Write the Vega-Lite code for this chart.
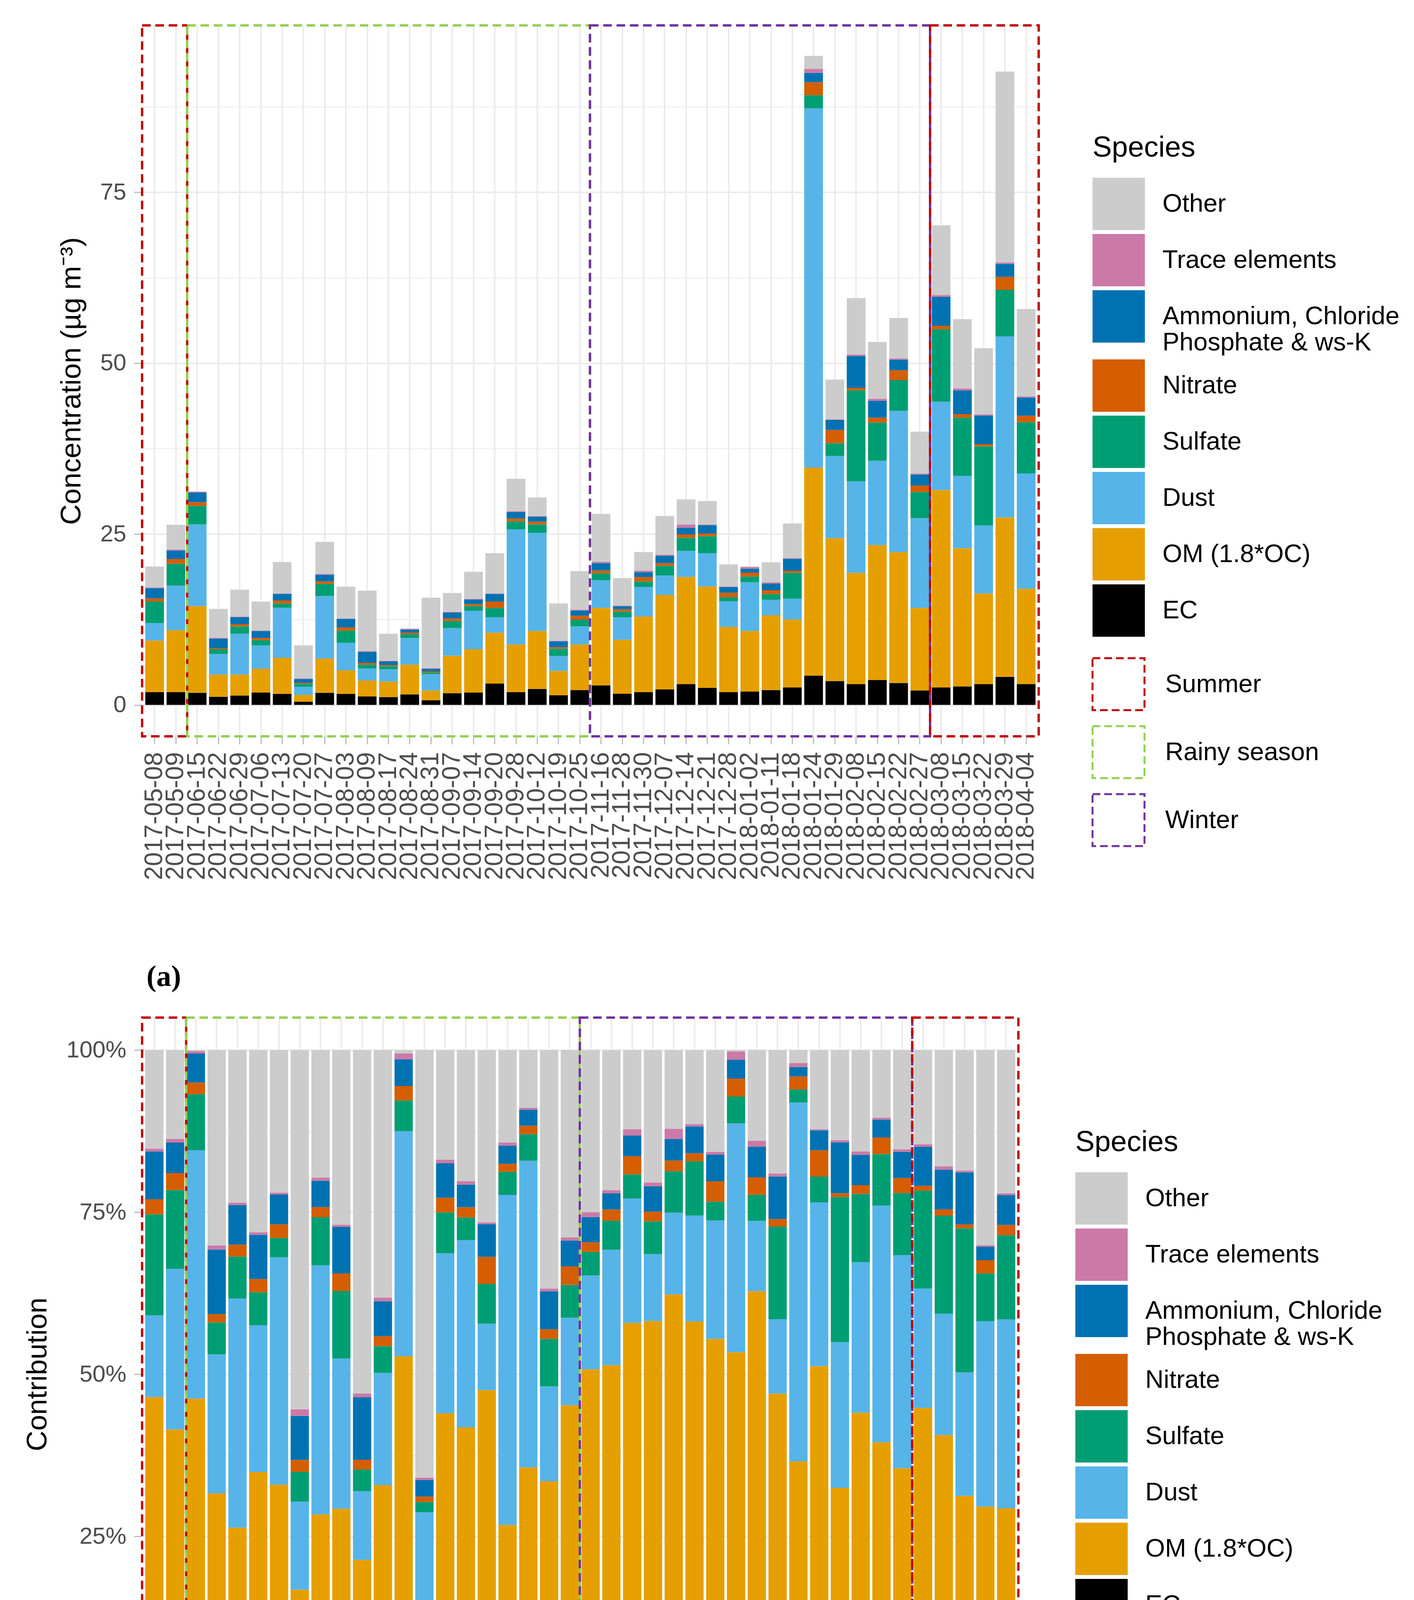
{
  "$schema": "https://vega.github.io/schema/vega-lite/v6.json",
  "padding": {"left": 60, "top": 62, "right": 20, "bottom": 0},
  "spacing": 62,
  "config": {
    "font": "Liberation Sans",
    "view": {"stroke": null},
    "axis": {"titleFontWeight": "normal", "titleColor": "black", "titleFontSize": 73, "labelLimit": 1000},
    "legend": {"titleLimit": 1000, "labelLimit": 1200}
  },
  "datasets": {
    "conc": [
      {"date": "2017-05-08", "EC": 1.86, "OM": 7.55, "Dust": 2.55, "Sulfate": 3.16, "Nitrate": 0.47, "NH4": 1.49, "Trace": 0.09, "Other": 3.08},
      {"date": "2017-05-09", "EC": 1.86, "OM": 9.07, "Dust": 6.52, "Sulfate": 3.20, "Nitrate": 0.69, "NH4": 1.24, "Trace": 0.15, "Other": 3.61},
      {"date": "2017-06-15", "EC": 1.77, "OM": 12.67, "Dust": 11.96, "Sulfate": 2.70, "Nitrate": 0.56, "NH4": 1.40, "Trace": 0.12, "Other": 0.05},
      {"date": "2017-06-22", "EC": 1.18, "OM": 3.26, "Dust": 3.01, "Sulfate": 0.69, "Nitrate": 0.18, "NH4": 1.40, "Trace": 0.09, "Other": 4.23},
      {"date": "2017-06-29", "EC": 1.37, "OM": 3.07, "Dust": 5.96, "Sulfate": 1.09, "Nitrate": 0.31, "NH4": 1.03, "Trace": 0.06, "Other": 3.97},
      {"date": "2017-07-06", "EC": 1.80, "OM": 3.48, "Dust": 3.42, "Sulfate": 0.77, "Nitrate": 0.31, "NH4": 1.03, "Trace": 0.06, "Other": 4.25},
      {"date": "2017-07-13", "EC": 1.61, "OM": 5.28, "Dust": 7.33, "Sulfate": 0.62, "Nitrate": 0.44, "NH4": 0.96, "Trace": 0.06, "Other": 4.60},
      {"date": "2017-07-20", "EC": 0.47, "OM": 0.99, "Dust": 1.18, "Sulfate": 0.40, "Nitrate": 0.16, "NH4": 0.59, "Trace": 0.09, "Other": 4.82},
      {"date": "2017-07-27", "EC": 1.77, "OM": 5.00, "Dust": 9.16, "Sulfate": 1.77, "Nitrate": 0.37, "NH4": 0.97, "Trace": 0.12, "Other": 4.69},
      {"date": "2017-08-03", "EC": 1.61, "OM": 3.45, "Dust": 4.01, "Sulfate": 1.80, "Nitrate": 0.47, "NH4": 1.24, "Trace": 0.06, "Other": 4.66},
      {"date": "2017-08-09", "EC": 1.24, "OM": 2.33, "Dust": 1.77, "Sulfate": 0.56, "Nitrate": 0.25, "NH4": 1.61, "Trace": 0.10, "Other": 8.85},
      {"date": "2017-08-17", "EC": 1.15, "OM": 2.27, "Dust": 1.80, "Sulfate": 0.43, "Nitrate": 0.16, "NH4": 0.56, "Trace": 0.06, "Other": 3.97},
      {"date": "2017-08-24", "EC": 1.55, "OM": 4.35, "Dust": 3.88, "Sulfate": 0.53, "Nitrate": 0.25, "NH4": 0.46, "Trace": 0.10, "Other": 0.06},
      {"date": "2017-08-31", "EC": 0.68, "OM": 1.43, "Dust": 2.39, "Sulfate": 0.25, "Nitrate": 0.13, "NH4": 0.40, "Trace": 0.06, "Other": 10.34},
      {"date": "2017-09-07", "EC": 1.71, "OM": 5.49, "Dust": 4.04, "Sulfate": 1.03, "Nitrate": 0.37, "NH4": 0.87, "Trace": 0.09, "Other": 2.77},
      {"date": "2017-09-14", "EC": 1.80, "OM": 6.34, "Dust": 5.62, "Sulfate": 0.68, "Nitrate": 0.31, "NH4": 0.68, "Trace": 0.10, "Other": 3.94},
      {"date": "2017-09-20", "EC": 3.11, "OM": 7.45, "Dust": 2.27, "Sulfate": 1.36, "Nitrate": 0.93, "NH4": 1.12, "Trace": 0.06, "Other": 5.90},
      {"date": "2017-09-28", "EC": 1.86, "OM": 6.99, "Dust": 16.83, "Sulfate": 1.18, "Nitrate": 0.41, "NH4": 0.93, "Trace": 0.15, "Other": 4.72},
      {"date": "2017-10-12", "EC": 2.33, "OM": 8.48, "Dust": 14.35, "Sulfate": 1.24, "Nitrate": 0.40, "NH4": 0.75, "Trace": 0.09, "Other": 2.70},
      {"date": "2017-10-19", "EC": 1.40, "OM": 3.57, "Dust": 2.17, "Sulfate": 1.09, "Nitrate": 0.22, "NH4": 0.87, "Trace": 0.06, "Other": 5.46},
      {"date": "2017-10-25", "EC": 2.17, "OM": 6.68, "Dust": 2.64, "Sulfate": 0.99, "Nitrate": 0.56, "NH4": 0.78, "Trace": 0.09, "Other": 5.66},
      {"date": "2017-11-16", "EC": 2.86, "OM": 11.33, "Dust": 4.04, "Sulfate": 1.02, "Nitrate": 0.41, "NH4": 1.09, "Trace": 0.21, "Other": 6.99},
      {"date": "2017-11-28", "EC": 1.65, "OM": 7.88, "Dust": 3.30, "Sulfate": 0.83, "Nitrate": 0.32, "NH4": 0.46, "Trace": 0.09, "Other": 4.01},
      {"date": "2017-11-30", "EC": 1.86, "OM": 11.09, "Dust": 4.29, "Sulfate": 0.83, "Nitrate": 0.63, "NH4": 0.71, "Trace": 0.22, "Other": 2.73},
      {"date": "2017-12-07", "EC": 2.27, "OM": 13.82, "Dust": 2.85, "Sulfate": 1.40, "Nitrate": 0.41, "NH4": 1.08, "Trace": 0.16, "Other": 5.65},
      {"date": "2017-12-14", "EC": 3.04, "OM": 15.69, "Dust": 3.79, "Sulfate": 1.92, "Nitrate": 0.50, "NH4": 0.99, "Trace": 0.47, "Other": 3.66},
      {"date": "2017-12-21", "EC": 2.48, "OM": 14.85, "Dust": 4.87, "Sulfate": 2.49, "Nitrate": 0.37, "NH4": 1.24, "Trace": 0.10, "Other": 3.41},
      {"date": "2017-12-28", "EC": 1.86, "OM": 9.54, "Dust": 3.76, "Sulfate": 0.59, "Nitrate": 0.65, "NH4": 0.84, "Trace": 0.09, "Other": 3.23},
      {"date": "2018-01-02", "EC": 1.96, "OM": 8.85, "Dust": 7.14, "Sulfate": 0.84, "Nitrate": 0.56, "NH4": 0.59, "Trace": 0.25, "Other": 0.05},
      {"date": "2018-01-11", "EC": 2.17, "OM": 10.94, "Dust": 2.26, "Sulfate": 0.84, "Nitrate": 0.56, "NH4": 0.99, "Trace": 0.19, "Other": 2.92},
      {"date": "2018-01-18", "EC": 2.55, "OM": 9.93, "Dust": 3.05, "Sulfate": 3.79, "Nitrate": 0.31, "NH4": 1.74, "Trace": 0.12, "Other": 5.06},
      {"date": "2018-01-24", "EC": 4.29, "OM": 30.43, "Dust": 52.56, "Sulfate": 1.90, "Nitrate": 1.90, "NH4": 1.38, "Trace": 0.59, "Other": 1.90},
      {"date": "2018-01-29", "EC": 3.48, "OM": 20.90, "Dust": 12.02, "Sulfate": 1.89, "Nitrate": 1.93, "NH4": 1.46, "Trace": 0.09, "Other": 5.81},
      {"date": "2018-02-08", "EC": 3.04, "OM": 16.28, "Dust": 13.38, "Sulfate": 13.32, "Nitrate": 0.35, "NH4": 4.67, "Trace": 0.21, "Other": 8.26},
      {"date": "2018-02-15", "EC": 3.63, "OM": 19.76, "Dust": 12.32, "Sulfate": 5.59, "Nitrate": 0.72, "NH4": 2.48, "Trace": 0.28, "Other": 8.30},
      {"date": "2018-02-22", "EC": 3.20, "OM": 19.16, "Dust": 20.65, "Sulfate": 4.50, "Nitrate": 1.45, "NH4": 1.56, "Trace": 0.17, "Other": 5.91},
      {"date": "2018-02-27", "EC": 2.11, "OM": 12.08, "Dust": 13.14, "Sulfate": 3.82, "Nitrate": 0.93, "NH4": 1.62, "Trace": 0.15, "Other": 6.12},
      {"date": "2018-03-08", "EC": 2.55, "OM": 28.88, "Dust": 12.92, "Sulfate": 10.59, "Nitrate": 0.52, "NH4": 4.22, "Trace": 0.28, "Other": 10.20},
      {"date": "2018-03-15", "EC": 2.70, "OM": 20.22, "Dust": 10.56, "Sulfate": 8.54, "Nitrate": 0.53, "NH4": 3.47, "Trace": 0.28, "Other": 10.13},
      {"date": "2018-03-22", "EC": 3.04, "OM": 13.26, "Dust": 9.94, "Sulfate": 11.59, "Nitrate": 0.31, "NH4": 4.19, "Trace": 0.15, "Other": 9.70},
      {"date": "2018-03-29", "EC": 4.10, "OM": 23.32, "Dust": 26.49, "Sulfate": 6.81, "Nitrate": 1.90, "NH4": 1.90, "Trace": 0.21, "Other": 27.91},
      {"date": "2018-04-04", "EC": 3.04, "OM": 13.95, "Dust": 16.86, "Sulfate": 7.52, "Nitrate": 0.93, "NH4": 2.67, "Trace": 0.15, "Other": 12.80}
    ],
    "species": [
      {"key": "EC", "label": "EC", "ord": 1},
      {"key": "OM", "label": "OM (1.8*OC)", "ord": 2},
      {"key": "Dust", "label": "Dust", "ord": 3},
      {"key": "Sulfate", "label": "Sulfate", "ord": 4},
      {"key": "Nitrate", "label": "Nitrate", "ord": 5},
      {"key": "NH4", "label": "Ammonium, Chloride Phosphate & ws-K", "ord": 6},
      {"key": "Trace", "label": "Trace elements", "ord": 7},
      {"key": "Other", "label": "Other", "ord": 8}
    ],
    "seasons": [
      {"season": "Summer", "xs": 0.41, "xe": 2.53},
      {"season": "Rainy season", "xs": 2.53, "xe": 21.48},
      {"season": "Winter", "xs": 21.48, "xe": 37.48},
      {"season": "Summer", "xs": 37.48, "xe": 42.59}
    ]
  },
  "resolve": {"legend": {"color": "independent", "stroke": "independent", "shape": "independent"}},
  "vconcat": [
    {
      "width": 2297,
      "height": 1820,
      "title": {"text": "(a)", "orient": "bottom", "anchor": "start", "frame": "group", "font": "Liberation Serif", "fontSize": 76, "fontWeight": "bold", "color": "black", "offset": 212, "dx": 12},
      "resolve": {"scale": {"x": "independent"}},
      "layer": [
        {
          "data": {"name": "conc"},
          "transform": [
            {"fold": ["EC", "OM", "Dust", "Sulfate", "Nitrate", "NH4", "Trace", "Other"], "as": ["key", "value"]},
            {"lookup": "key", "from": {"data": {"name": "species"}, "key": "key", "fields": ["label", "ord"]}}
          ],
          "mark": {"type": "bar"},
          "encoding": {
            "x": {
              "field": "date", "type": "ordinal",
              "scale": {"paddingInner": 0.12, "paddingOuter": 0.165},
              "axis": {"title": null, "labelAngle": -90, "labelFontSize": 64, "labelColor": "#4D4D4D", "labelPadding": 20,
                       "tickSize": 20, "tickColor": "#BDBDBD", "tickWidth": 3, "grid": true, "gridColor": "#EBEBEB", "gridWidth": 4, "domain": false}
            },
            "y": {
              "field": "value", "type": "quantitative", "stack": "zero",
              "scale": {"domain": [-4.6, 99.4], "nice": false, "zero": false},
              "axis": {
                "title": "Concentration (µg m⁻³)",
                "values": [0, 12.5, 25, 37.5, 50, 62.5, 75, 87.5],
                "labelExpr": "datum.value % 25 === 0 ? datum.label : ''",
                "labelFontSize": 60, "labelColor": "#4D4D4D", "labelPadding": 20, "titlePadding": 36,
                "tickSize": 20, "tickColor": "#BDBDBD", "tickWidth": 3,
                "tickOpacity": {"condition": {"test": "datum.value % 25 !== 0", "value": 0}, "value": 1},
                "domain": false, "grid": true, "gridColor": "#EBEBEB",
                "gridWidth": {"condition": {"test": "datum.value % 25 !== 0", "value": 2}, "value": 4}
              }
            },
            "color": {
              "field": "label", "type": "nominal",
              "scale": {
                "domain": ["Other", "Trace elements", "Ammonium, Chloride Phosphate & ws-K", "Nitrate", "Sulfate", "Dust", "OM (1.8*OC)", "EC"],
                "range": ["#CCCCCC", "#CC79A7", "#0072B2", "#D55E00", "#009E73", "#56B4E9", "#E69F00", "#000000"]
              },
              "legend": {
                "title": "Species", "orient": "none", "legendX": 2434, "legendY": 278,
                "symbolType": "square", "symbolSize": 17956, "symbolStrokeWidth": 0,
                "labelFontSize": 65, "labelColor": "black", "labelLimit": 1200, "labelOffset": 45,
                "titleFontSize": 74, "titleFontWeight": "normal", "titleColor": "black", "titlePadding": 38, "titleLimit": 1000,
                "rowPadding": 10,
                "labelExpr": "datum.label === 'Ammonium, Chloride Phosphate & ws-K' ? ['Ammonium, Chloride', 'Phosphate & ws-K'] : datum.label"
              }
            },
            "order": {"field": "ord", "type": "quantitative", "sort": "ascending"}
          }
        },
        {
          "data": {"name": "seasons"},
          "mark": {"type": "rect", "filled": false, "strokeWidth": 6, "strokeDash": [22, 12]},
          "encoding": {
            "x": {"field": "xs", "type": "quantitative", "scale": {"domain": [0.395, 42.605], "nice": false, "zero": false}, "axis": null},
            "x2": {"field": "xe"},
            "stroke": {
              "field": "season", "type": "nominal",
              "scale": {"domain": ["Summer", "Rainy season", "Winter"], "range": ["#C00000", "#92D050", "#7030A0"]},
              "legend": {
                "title": null, "orient": "none", "legendX": 2431, "legendY": 1617,
                "symbolType": "square", "symbolSize": 17700, "symbolDash": [20, 10], "symbolStrokeWidth": 5, "symbolFillColor": "transparent",
                "labelFontSize": 65, "labelColor": "black", "labelLimit": 1200, "labelOffset": 50, "rowPadding": 19
              }
            }
          }
        }
      ]
    },
    {
      "width": 2245,
      "height": 1826,
      "title": {"text": "(b)", "orient": "bottom", "anchor": "start", "frame": "group", "font": "Liberation Serif", "fontSize": 76, "fontWeight": "bold", "color": "black", "offset": 276, "dx": 2},
      "resolve": {"scale": {"x": "independent"}},
      "layer": [
        {
          "data": {"name": "conc"},
          "transform": [
            {"fold": ["EC", "OM", "Dust", "Sulfate", "Nitrate", "NH4", "Trace", "Other"], "as": ["key", "value"]},
            {"lookup": "key", "from": {"data": {"name": "species"}, "key": "key", "fields": ["label", "ord"]}}
          ],
          "mark": {"type": "bar"},
          "encoding": {
            "x": {
              "field": "date", "type": "ordinal",
              "scale": {"paddingInner": 0.12, "paddingOuter": 0.165},
              "axis": {"title": null, "labelAngle": -90, "labelFontSize": 64, "labelColor": "#4D4D4D", "labelPadding": 20,
                       "tickSize": 20, "tickColor": "#BDBDBD", "tickWidth": 3, "grid": true, "gridColor": "#EBEBEB", "gridWidth": 4, "domain": false}
            },
            "y": {
              "field": "value", "type": "quantitative", "stack": "normalize",
              "scale": {"domain": [-0.05, 1.05], "nice": false, "zero": false},
              "axis": {
                "title": "Contribution",
                "values": [0, 0.125, 0.25, 0.375, 0.5, 0.625, 0.75, 0.875, 1],
                "labelExpr": "round(datum.value * 1000) % 250 === 0 ? format(datum.value, '.0%') : ''",
                "labelFontSize": 60, "labelColor": "#4D4D4D", "labelPadding": 20, "titlePadding": 36,
                "tickSize": 20, "tickColor": "#BDBDBD", "tickWidth": 3,
                "tickOpacity": {"condition": {"test": "round(datum.value * 1000) % 250 !== 0", "value": 0}, "value": 1},
                "domain": false, "grid": true, "gridColor": "#EBEBEB",
                "gridWidth": {"condition": {"test": "round(datum.value * 1000) % 250 !== 0", "value": 2}, "value": 4}
              }
            },
            "color": {
              "field": "label", "type": "nominal",
              "scale": {
                "domain": ["Other", "Trace elements", "Ammonium, Chloride Phosphate & ws-K", "Nitrate", "Sulfate", "Dust", "OM (1.8*OC)", "EC"],
                "range": ["#CCCCCC", "#CC79A7", "#0072B2", "#D55E00", "#009E73", "#56B4E9", "#E69F00", "#000000"]
              },
              "legend": {
                "title": "Species", "orient": "none", "legendX": 2390, "legendY": 284,
                "symbolType": "square", "symbolSize": 17956, "symbolStrokeWidth": 0,
                "labelFontSize": 65, "labelColor": "black", "labelLimit": 1200, "labelOffset": 45,
                "titleFontSize": 74, "titleFontWeight": "normal", "titleColor": "black", "titlePadding": 38, "titleLimit": 1000,
                "rowPadding": 10,
                "labelExpr": "datum.label === 'Ammonium, Chloride Phosphate & ws-K' ? ['Ammonium, Chloride', 'Phosphate & ws-K'] : datum.label"
              }
            },
            "order": {"field": "ord", "type": "quantitative", "sort": "ascending"}
          }
        },
        {
          "data": {"name": "seasons"},
          "mark": {"type": "rect", "filled": false, "strokeWidth": 6, "strokeDash": [22, 12]},
          "encoding": {
            "x": {"field": "xs", "type": "quantitative", "scale": {"domain": [0.395, 42.605], "nice": false, "zero": false}, "axis": null},
            "x2": {"field": "xe"},
            "stroke": {
              "field": "season", "type": "nominal",
              "scale": {"domain": ["Summer", "Rainy season", "Winter"], "range": ["#C00000", "#92D050", "#7030A0"]},
              "legend": {
                "title": null, "orient": "none", "legendX": 2387, "legendY": 1621,
                "symbolType": "square", "symbolSize": 17700, "symbolDash": [20, 10], "symbolStrokeWidth": 5, "symbolFillColor": "transparent",
                "labelExpr": "''", "labelFontSize": 65, "rowPadding": 19
              }
            }
          }
        },
        {
          "data": {"name": "seasons"},
          "transform": [{"filter": "false"}],
          "mark": {"type": "point", "filled": true, "color": "#FFFF00"},
          "encoding": {
            "shape": {
              "field": "season", "type": "nominal",
              "scale": {
                "domain": ["Summer ", "Rainy season ", "Winter "],
                "range": ["M 1.8 -1.03 L 5.69 -1.03 L 5.69 1 L 1.8 1 Z", "M 1.8 -1.03 L 7.77 -1.03 L 7.77 1 L 1.8 1 Z", "M 1.8 -1.03 L 5.1 -1.03 L 5.1 1 L 1.8 1 Z"]
              },
              "legend": {
                "title": null, "orient": "none", "legendX": 2387, "legendY": 1621,
                "symbolSize": 17700, "symbolStrokeWidth": 0, "symbolFillColor": "#FFFF00", "symbolOpacity": 1,
                "labelFontSize": 65, "labelColor": "black", "labelLimit": 1200, "labelOffset": 57, "labelBaseline": "top", "rowPadding": 19
              }
            }
          }
        }
      ]
    }
  ]
}
